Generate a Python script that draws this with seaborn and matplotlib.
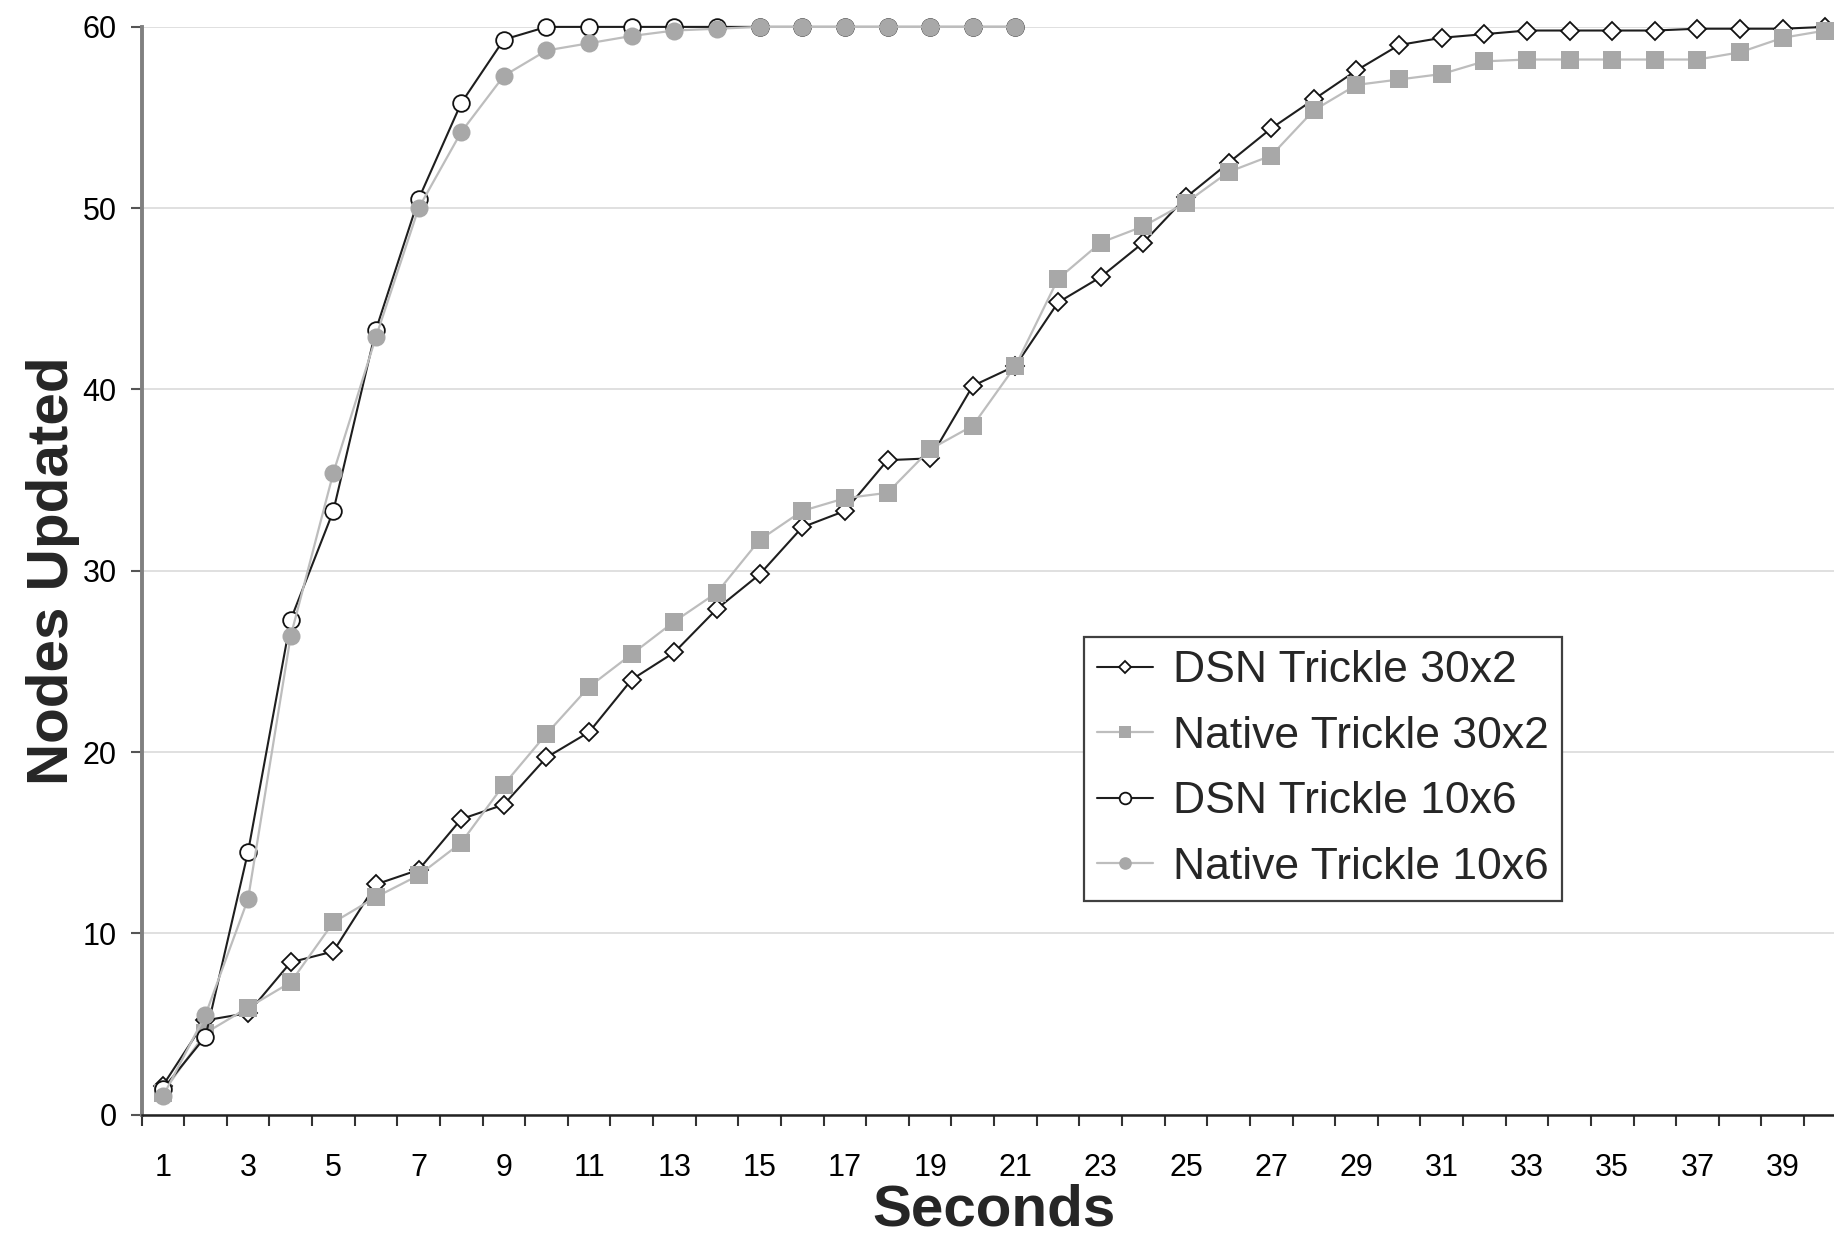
import numpy as np
import pandas as pd
import matplotlib
matplotlib.use("Agg")
import matplotlib.pyplot as plt
import seaborn as sns

# ---- data ----
seconds = list(range(1, 41))
seconds_10x6 = list(range(1, 22))

dsn_30x2 = [1.6, 5.2, 5.6, 8.4, 9.0, 12.7, 13.5, 16.3, 17.1, 19.7,
            21.1, 24.0, 25.5, 27.9, 29.8, 32.4, 33.3, 36.1, 36.2, 40.2,
            41.3, 44.8, 46.2, 48.1, 50.6, 52.5, 54.4, 56.0, 57.6, 59.0,
            59.4, 59.6, 59.8, 59.8, 59.8, 59.8, 59.9, 59.9, 59.9, 60.0]
native_30x2 = [1.2, 4.5, 5.9, 7.3, 10.6, 12.0, 13.2, 15.0, 18.2, 21.0,
               23.6, 25.4, 27.2, 28.8, 31.7, 33.3, 34.0, 34.3, 36.7, 38.0,
               41.3, 46.1, 48.1, 49.0, 50.3, 52.0, 52.9, 55.4, 56.8, 57.1,
               57.4, 58.1, 58.2, 58.2, 58.2, 58.2, 58.2, 58.6, 59.4, 59.8]
dsn_10x6 = [1.4, 4.3, 14.5, 27.3, 33.3, 43.3, 50.5, 55.8, 59.3, 60.0,
            60.0, 60.0, 60.0, 60.0, 60.0, 60.0, 60.0, 60.0, 60.0, 60.0, 60.0]
native_10x6 = [1.0, 5.5, 11.9, 26.4, 35.4, 42.9, 50.0, 54.2, 57.3, 58.7,
               59.1, 59.5, 59.8, 59.9, 60.0, 60.0, 60.0, 60.0, 60.0, 60.0, 60.0]

series_names = ["DSN Trickle 30x2", "Native Trickle 30x2",
                "DSN Trickle 10x6", "Native Trickle 10x6"]
y_ticks = [0, 10, 20, 30, 40, 50, 60]
x_tick_labels = [str(v) for v in range(1, 41, 2)]

# ---- style ----
sns.set_theme(style="white")
plt.rcParams["font.family"] = ["Liberation Sans", "DejaVu Sans"]

W, H = 1834, 1234
fig = plt.figure(figsize=(W / 100, H / 100), dpi=100)
ax = fig.add_axes([141.5 / W, (H - 1114.6) / H, 1705.2 / W, 1087.7 / H])

frames = [
    pd.DataFrame({"Seconds": seconds, "Nodes": dsn_30x2}),
    pd.DataFrame({"Seconds": seconds, "Nodes": native_30x2}),
    pd.DataFrame({"Seconds": seconds_10x6, "Nodes": dsn_10x6}),
    pd.DataFrame({"Seconds": seconds_10x6, "Nodes": native_10x6}),
]
styles = [
    dict(color="#1e1e1e", marker="D", markersize=9, markerfacecolor="white",
         markeredgecolor="#111111", markeredgewidth=1.3, linewidth=1.5),
    dict(color="#bdbdbd", marker="s", markersize=12.5, markerfacecolor="#a8a8a8",
         markeredgecolor="#a8a8a8", markeredgewidth=0, linewidth=1.6),
    dict(color="#1e1e1e", marker="o", markersize=12, markerfacecolor="white",
         markeredgecolor="#111111", markeredgewidth=1.3, linewidth=1.5),
    dict(color="#bdbdbd", marker="o", markersize=13, markerfacecolor="#a8a8a8",
         markeredgecolor="#a8a8a8", markeredgewidth=0, linewidth=1.6),
]
for i, (df, st, name) in enumerate(zip(frames, styles, series_names)):
    sns.lineplot(data=df, x="Seconds", y="Nodes", ax=ax, label=name,
                 clip_on=False, zorder=3 + i, **st)

ax.set_xlim(0.5, 40.5)
ax.set_ylim(0, 60)

# y axis
ax.set_yticks(y_ticks)
ax.set_yticklabels([str(v) for v in y_ticks])
ax.yaxis.grid(True, color="#dadada", linewidth=1.2)
ax.xaxis.grid(False)
ax.tick_params(axis="y", which="major", left=True, length=8, width=1.5,
               color="#555555", pad=10, labelsize=22, labelcolor="black")

# x axis: labels on odd categories, tick marks between categories
ax.set_xticks(list(range(1, 41, 2)))
ax.set_xticklabels(x_tick_labels)
ax.set_xticks(np.arange(0.5, 41.0, 1.0), minor=True)
ax.tick_params(axis="x", which="major", bottom=True, length=0, pad=28,
               labelsize=22, labelcolor="black")
ax.tick_params(axis="x", which="minor", bottom=True, length=8, width=1.5,
               color="#333333")

for side in ["top", "right"]:
    ax.spines[side].set_visible(False)
ax.spines["left"].set_color("#808080")
ax.spines["left"].set_linewidth(2.8)
ax.spines["bottom"].set_color("#222222")
ax.spines["bottom"].set_linewidth(1.8)

ax.set_xlabel("Seconds", fontsize=42, fontweight="bold", labelpad=0)
ax.set_ylabel("Nodes Updated", fontsize=42, fontweight="bold", labelpad=2)

leg = ax.legend(loc="upper left", bbox_to_anchor=(1084 / W, (H - 637) / H),
                bbox_transform=fig.transFigure, fontsize=32, frameon=True,
                fancybox=False, shadow=False, borderpad=0.3, labelspacing=0.55,
                handlelength=1.25, handletextpad=0.45, markerscale=0.7,
                borderaxespad=0)
leg.get_frame().set_edgecolor("#404040")
leg.get_frame().set_linewidth(1.6)
leg.get_frame().set_facecolor("white")
leg.get_frame().set_alpha(1)
leg.set_zorder(10)

fig.savefig("out.png", dpi=100)
